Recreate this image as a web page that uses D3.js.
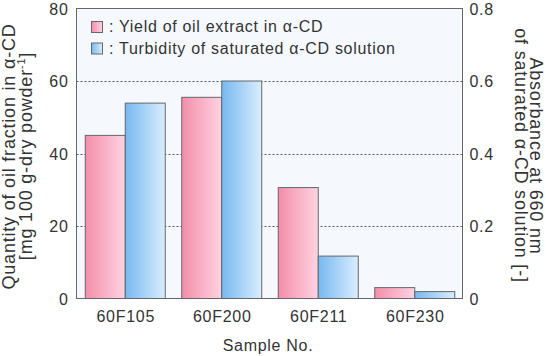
<!DOCTYPE html>
<html><head><meta charset="utf-8">
<script src="https://cdn.jsdelivr.net/npm/d3@7"></script>
<style>body{margin:0;background:#fff}svg{display:block}text{font-family:"Liberation Sans",Arial,sans-serif;fill:#333}</style>
</head><body><svg id="c" width="546" height="356"></svg>
<script>
const categories = ["60F105","60F200","60F211","60F230"];
const yieldValues = [45.0, 55.5, 30.6, 3.0];
const turbidityValues = [0.539, 0.600, 0.117, 0.019];
const leftTicks = [0,20,40,60,80];
const rightTicks = [0,0.2,0.4,0.6,0.8];
const legendLabels = [": Yield of oil extract in α-CD", ": Turbidity of saturated α-CD solution"];

const svg = d3.select("#c");
const L=76.5, R=462.5, T=8.5, B=298.5;
const defs = svg.append("defs");
function grad(id,c1,c2){const g=defs.append("linearGradient").attr("id",id).attr("x1","0%").attr("x2","100%").attr("y1","0%").attr("y2","0%");
 g.append("stop").attr("offset","0%").attr("stop-color",c1);g.append("stop").attr("offset","100%").attr("stop-color",c2);}
grad("gp","#f38eaa","#fed3e1");grad("gb","#78b8f0","#d9eefe");

const x = d3.scaleBand().domain(categories).range([L,R]).paddingInner(0).paddingOuter(0);
const yL = d3.scaleLinear().domain([0,80]).range([B,T]);
const yR = d3.scaleLinear().domain([0,0.8]).range([B,T]);
const bw = 40, off = (x.bandwidth()-2*bw)/2;

svg.append("rect").attr("x",L).attr("y",T).attr("width",R-L).attr("height",B-T).attr("fill","#f5f9fe");
svg.append("g").selectAll("line").data(leftTicks.filter(d=>d>0&&d<80)).join("line")
 .attr("x1",L).attr("x2",R).attr("y1",d=>Math.round(yL(d))+0.5).attr("y2",d=>Math.round(yL(d))+0.5)
 .attr("stroke","#555").attr("stroke-dasharray","2,2");

const g = svg.append("g");
g.selectAll(".p").data(categories).join("rect").attr("class","p")
 .attr("x",d=>x(d)+off+0.5).attr("width",bw).attr("y",(d,i)=>yL(yieldValues[i])).attr("height",(d,i)=>B-yL(yieldValues[i]))
 .attr("fill","url(#gp)").attr("stroke","#666");
g.selectAll(".b").data(categories).join("rect").attr("class","b")
 .attr("x",d=>x(d)+off+bw+0.5).attr("width",bw).attr("y",(d,i)=>yR(turbidityValues[i])).attr("height",(d,i)=>B-yR(turbidityValues[i]))
 .attr("fill","url(#gb)").attr("stroke","#666");

svg.append("rect").attr("x",L).attr("y",T).attr("width",R-L).attr("height",B-T).attr("fill","none").attr("stroke","#666");

const fs=16, ls="0.7px", tfs=18, tls="0.8px";
function styleTicks(sel){sel.selectAll("path").remove();sel.selectAll("line").remove();
 sel.selectAll("text").attr("font-size",fs).attr("fill","#333").style("letter-spacing",ls).attr("font-family","Liberation Sans, Arial, sans-serif");}
const aL = svg.append("g").attr("transform",`translate(${L},0)`).call(d3.axisLeft(yL).tickValues(leftTicks).tickSize(0).tickPadding(8));
styleTicks(aL);
aL.selectAll("text").attr("dy","0.36em");
const aR = svg.append("g").attr("transform",`translate(${R},0)`).call(d3.axisRight(yR).tickValues(rightTicks).tickSize(0).tickPadding(7).tickFormat(d=>d===0?"0":d3.format(".1f")(d)));
styleTicks(aR);
aR.selectAll("text").attr("dy","0.36em");
const aX = svg.append("g").attr("transform",`translate(0,${B})`).call(d3.axisBottom(x).tickSize(0).tickPadding(12));
styleTicks(aX);
aX.selectAll("text").attr("dy","0.71em").attr("transform","translate(1,0)");

svg.append("text").attr("x",268).attr("y",351).attr("text-anchor","middle").attr("font-size",fs).style("letter-spacing",ls).text("Sample No.");

svg.append("text").attr("transform","translate(15,156.5) rotate(-90)").attr("text-anchor","middle").attr("font-size",tfs).style("letter-spacing",tls)
 .text("Quantity of oil fraction in α-CD");
const lt2 = svg.append("text").attr("transform","translate(32,156) rotate(-90)").attr("text-anchor","middle").attr("font-size",tfs).style("letter-spacing",tls);
lt2.append("tspan").text("[mg 100 g-dry powder");
lt2.append("tspan").attr("font-size",11).attr("dy",-7).text("-1");
lt2.append("tspan").attr("dy",7).text("]");

svg.append("text").attr("transform","translate(529.5,156) rotate(90)").attr("text-anchor","middle").attr("font-size",tfs).style("letter-spacing",tls).text("Absorbance at 660 nm");
svg.append("text").attr("transform","translate(514.5,155.5) rotate(90)").attr("text-anchor","middle").attr("font-size",tfs).style("letter-spacing",tls).text("of saturated α-CD solution [-]");

const lg = svg.append("g");
const fills=["url(#gp)","url(#gb)"];
legendLabels.forEach((t,i)=>{
 const yy = 21.5 + i*21.5;
 lg.append("rect").attr("x",91.5).attr("y",yy).attr("width",11).attr("height",11).attr("fill",fills[i]).attr("stroke","#666");
 lg.append("text").attr("x",109).attr("y",yy+10.5).attr("font-size",fs).style("letter-spacing",ls).text(t);
});
</script></body></html>
